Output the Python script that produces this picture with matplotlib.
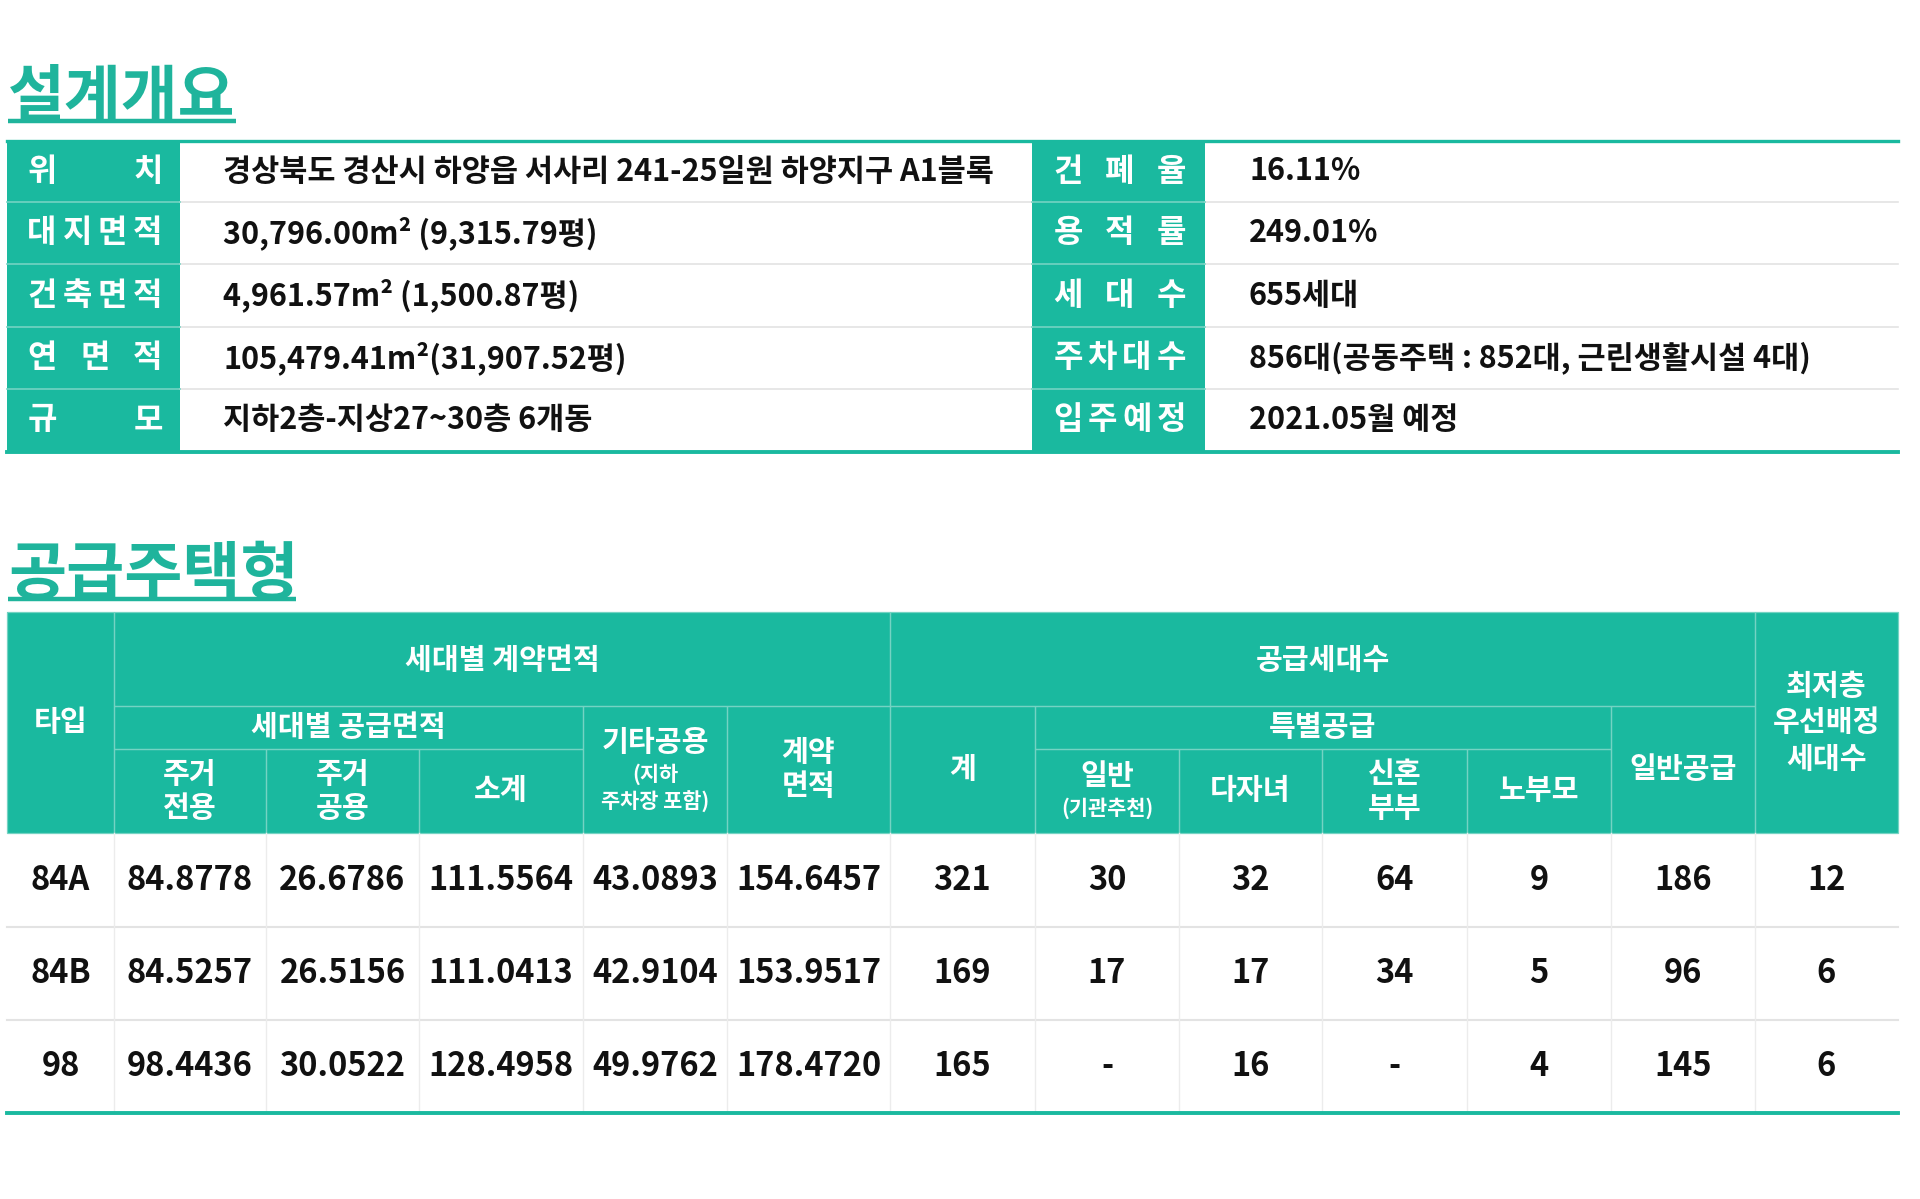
import matplotlib
matplotlib.use("Agg")
import matplotlib.pyplot as plt
from matplotlib.patches import Rectangle

plt.rcParams['font.family'] = ['Noto Sans CJK KR', 'DejaVu Sans']

TEAL = '#1ab99f'
TITLE_TEAL = '#1fb49c'
INNER = '#74d3c3'
GRID = '#e3e3e3'

# ---- data: 설계개요 ----
left_labels = ['위치', '대지면적', '건축면적', '연면적', '규모']
left_values = ['경상북도 경산시 하양읍 서사리 241-25일원 하양지구 A1블록',
               '30,796.00m² (9,315.79평)',
               '4,961.57m² (1,500.87평)',
               '105,479.41m²(31,907.52평)',
               '지하2층-지상27~30층 6개동']
right_labels = ['건폐율', '용적률', '세대수', '주차대수', '입주예정']
right_values = ['16.11%', '249.01%', '655세대',
                '856대(공동주택 : 852대, 근린생활시설 4대)', '2021.05월 예정']

# ---- data: 공급주택형 ----
types = ['84A', '84B', '98']
excl_area = ['84.8778', '84.5257', '98.4436']
common_area = ['26.6786', '26.5156', '30.0522']
subtotal = ['111.5564', '111.0413', '128.4958']
other_common = ['43.0893', '42.9104', '49.9762']
contract_area = ['154.6457', '153.9517', '178.4720']
total_units = ['321', '169', '165']
sp_general = ['30', '17', '-']
sp_multichild = ['32', '17', '16']
sp_newlywed = ['64', '34', '-']
sp_elderly = ['9', '5', '4']
general_supply = ['186', '96', '145']
lowest_floor = ['12', '6', '6']

fig = plt.figure(figsize=(19.2, 11.99), dpi=100)
ax = fig.add_axes([0, 0, 1, 1])
ax.set_xlim(0, 1920)
ax.set_ylim(1199, 0)
ax.axis('off')


def title(x, y, s, width, size):
    ax.text(x, y, s, fontsize=size, fontweight='bold', color=TITLE_TEAL,
            ha='left', va='baseline')
    ax.plot([x, x + width], [y + 5, y + 5], color=TITLE_TEAL, lw=3.2,
            solid_capstyle='butt')


def spread(x0, x1, yc, s):
    chars = list(s)
    n = len(chars)
    for i, ch in enumerate(chars):
        xc = x0 + (x1 - x0) * i / (n - 1)
        ax.text(xc, yc, ch, fontsize=23, fontweight='bold', color='white',
                ha='center', va='center')


# ---------- 설계개요 ----------
title(8, 116, '설계개요', 228, 44.5)

top_rows = [141, 202, 264, 327, 389, 452]
cx = [7, 180, 1032, 1205, 1898]
for i in range(len(left_labels)):
    y0, y1 = top_rows[i], top_rows[i + 1]
    yc = (y0 + y1) / 2
    ax.add_patch(Rectangle((cx[0], y0), cx[1] - cx[0], y1 - y0, color=TEAL, lw=0))
    ax.add_patch(Rectangle((cx[2], y0), cx[3] - cx[2], y1 - y0, color=TEAL, lw=0))
    spread(cx[0] + 35, cx[1] - 32, yc, left_labels[i])
    spread(cx[2] + 36, cx[3] - 34, yc, right_labels[i])
    ax.text(cx[1] + 43, yc, left_values[i], fontsize=22, fontweight='bold',
            color='#111111', ha='left', va='center')
    ax.text(cx[3] + 44, yc, right_values[i], fontsize=22, fontweight='bold',
            color='#111111', ha='left', va='center')
    if i > 0:
        ax.plot([cx[1], cx[2]], [y0, y0], color=GRID, lw=1.2)
        ax.plot([cx[3], cx[4]], [y0, y0], color=GRID, lw=1.2)
        ax.plot([cx[0], cx[1]], [y0, y0], color=INNER, lw=1.2)
        ax.plot([cx[2], cx[3]], [y0, y0], color=INNER, lw=1.2)
ax.plot([cx[0], cx[4]], [top_rows[0], top_rows[0]], color=TEAL, lw=2.4)
ax.plot([cx[0], cx[4]], [top_rows[-1], top_rows[-1]], color=TEAL, lw=2.8)

# ---------- 공급주택형 ----------
title(8, 594, '공급주택형', 288, 45.5)

cols = [7, 114, 266, 419, 583, 727, 890, 1035, 1179, 1322, 1467, 1611, 1755, 1898]
hr = [612, 706, 749, 833]
data_rows = [833, 927, 1020, 1113]

ax.add_patch(Rectangle((cols[0], hr[0]), cols[-1] - cols[0], hr[-1] - hr[0],
                       color=TEAL, lw=0))

# header cells: (c0, c1, r0, r1, [(text, size, y)])
header = [
    (0, 1, 0, 3, [('타입', 21, 722)]),
    (1, 6, 0, 1, [('세대별 계약면적', 21, 660)]),
    (1, 4, 1, 2, [('세대별 공급면적', 21, 727)]),
    (1, 2, 2, 3, [('주거', 21, 774), ('전용', 21, 808)]),
    (2, 3, 2, 3, [('주거', 21, 774), ('공용', 21, 808)]),
    (3, 4, 2, 3, [('소계', 21, 790)]),
    (4, 5, 1, 3, [('기타공용', 21, 742), ('(지하', 15, 774), ('주차장 포함)', 15, 802)]),
    (5, 6, 1, 3, [('계약', 21, 752), ('면적', 21, 786)]),
    (6, 12, 0, 1, [('공급세대수', 21, 660)]),
    (6, 7, 1, 3, [('계', 21, 769)]),
    (7, 11, 1, 2, [('특별공급', 21, 727)]),
    (7, 8, 2, 3, [('일반', 21, 776), ('(기관추천)', 15, 808)]),
    (8, 9, 2, 3, [('다자녀', 21, 790)]),
    (9, 10, 2, 3, [('신혼', 21, 774), ('부부', 21, 808)]),
    (10, 11, 2, 3, [('노부모', 21, 790)]),
    (11, 12, 1, 3, [('일반공급', 21, 769)]),
    (12, 13, 0, 3, [('최저층', 21, 686), ('우선배정', 21, 722), ('세대수', 21, 759)]),
]
for c0, c1, r0, r1, lines in header:
    x0, x1 = cols[c0], cols[c1]
    y0, y1 = hr[r0], hr[r1]
    ax.add_patch(Rectangle((x0, y0), x1 - x0, y1 - y0, fill=False,
                           edgecolor=INNER, lw=0.9))
    for s, size, y in lines:
        ax.text((x0 + x1) / 2, y, s, fontsize=size, fontweight='bold',
                color='white', ha='center', va='center')

columns = [types, excl_area, common_area, subtotal, other_common, contract_area,
           total_units, sp_general, sp_multichild, sp_newlywed, sp_elderly,
           general_supply, lowest_floor]
for r in range(len(types)):
    y0, y1 = data_rows[r], data_rows[r + 1]
    yc = (y0 + y1) / 2
    for c, col in enumerate(columns):
        ax.text((cols[c] + cols[c + 1]) / 2, yc, col[r], fontsize=23.5,
                fontweight='bold', color='#111111', ha='center', va='center')
    if r > 0:
        ax.plot([cols[0], cols[-1]], [y0, y0], color=GRID, lw=1.5)
for x in cols[1:-1]:
    ax.plot([x, x], [data_rows[0], data_rows[-1]], color='#ececec', lw=1.0)
ax.plot([cols[0], cols[-1]], [data_rows[-1], data_rows[-1]], color=TEAL, lw=2.8)

fig.savefig('out.png', dpi=100, facecolor='white')
